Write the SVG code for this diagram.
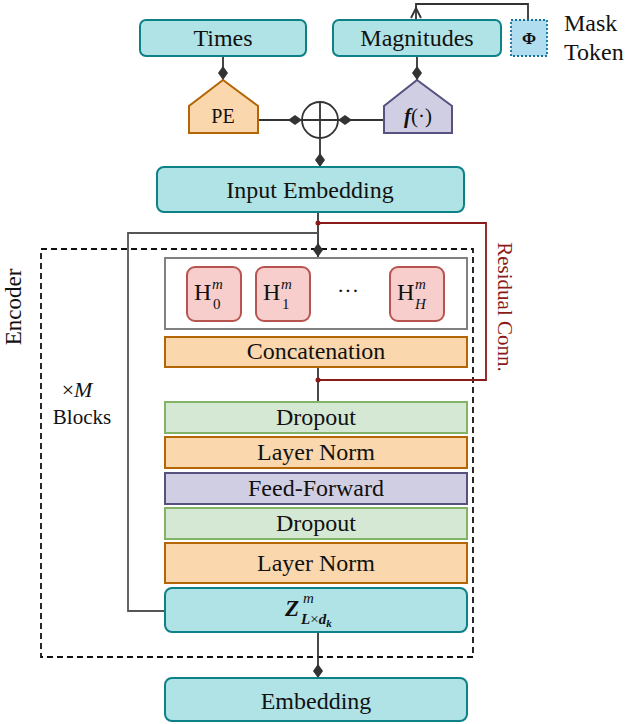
<svg xmlns="http://www.w3.org/2000/svg" width="628" height="724" viewBox="0 0 628 724" font-family="'Liberation Serif', 'DejaVu Serif', serif">
<defs>
<style>
text{font-family:'Liberation Serif','DejaVu Serif',serif;fill:#111;}
.lbl{font-size:24px;text-anchor:middle;}
.teal{fill:#b0e3e6;stroke:#0e8088;stroke-width:2;}
.org{fill:#fad7ac;stroke:#b46504;stroke-width:2;}
.pur{fill:#d0cee2;stroke:#56517e;stroke-width:2;}
.grn{fill:#d5e8d4;stroke:#82b366;stroke-width:2;}
.red{fill:#f8cecc;stroke:#b85450;stroke-width:2;}
.ln{fill:none;stroke:#333;stroke-width:1.8;}
.res{fill:none;stroke:#8b1a1a;stroke-width:1.8;}
.it{font-style:italic;}
.sc{font-size:15px;}
</style>
<marker id="dia" viewBox="0 0 14 10" refX="14" refY="5" markerWidth="14" markerHeight="10" markerUnits="userSpaceOnUse" orient="auto">
<path d="M0,5 L7,0 L14,5 L7,10 Z" fill="#333"/>
</marker>
</defs>

<g id="encoder-box">
<rect x="41" y="249" width="432" height="408" fill="none" stroke="#111" stroke-width="1.8" stroke-dasharray="6,4"/>
<text transform="translate(21,307) rotate(-90)" style="font-size:23px;text-anchor:middle">Encoder</text>
<text x="77" y="397" style="font-size:22px;text-anchor:middle">×<tspan class="it">M</tspan></text>
<text x="82" y="424" style="font-size:21px;text-anchor:middle">Blocks</text>
</g>

<g id="connectors">
<path class="ln" d="M223,56 V80" marker-end="url(#dia)"/>
<path class="ln" d="M417,56 V80" marker-end="url(#dia)"/>
<path class="ln" d="M258,120 H302" marker-end="url(#dia)"/>
<path class="ln" d="M384,120 H338" marker-end="url(#dia)"/>
<path class="ln" d="M320,138 V167" marker-end="url(#dia)"/>
<path class="ln" d="M528,20 V4 H416 V20"/>
<path class="ln" d="M411,18 L416,8 L421,18"/>
<path class="ln" d="M318,212 V257" marker-end="url(#dia)"/>
<path class="ln" d="M318,233 H128 V611 H165" style="stroke:#555"/>
<path class="ln" d="M318,367 V402"/>
<path class="res" d="M318,223 H486 V380 H318"/>
<circle cx="318" cy="223" r="2.5" fill="#8b1a1a"/>
<circle cx="318" cy="380" r="2.5" fill="#8b1a1a"/>
<path class="ln" d="M318,632 V678" marker-end="url(#dia)"/>
</g>

<g id="times">
<rect class="teal" x="140" y="20" width="166" height="36" rx="6"/>
<text class="lbl" x="223" y="46">Times</text>
</g>
<g id="magnitudes">
<rect class="teal" x="333" y="20" width="168" height="36" rx="6"/>
<text class="lbl" x="417" y="46">Magnitudes</text>
</g>
<g id="mask-token">
<rect x="511" y="20" width="36" height="36" fill="#b1ddf0" stroke="#10739e" stroke-width="1.8" stroke-dasharray="2,2"/>
<text x="529" y="44" style="font-size:17px;font-weight:bold;text-anchor:middle">Φ</text>
<text x="564" y="31" style="font-size:24px">Mask</text>
<text x="564" y="60" style="font-size:24px">Token</text>
</g>
<g id="pe">
<path class="org" d="M223,80 L258,106 V133 H189 V106 Z"/>
<text x="223" y="123" style="font-size:20px;text-anchor:middle">PE</text>
</g>
<g id="f">
<path class="pur" d="M417,80 L452,106 V133 H384 V106 Z"/>
<text x="418" y="123" style="font-size:21px;text-anchor:middle"><tspan class="it" font-weight="bold">f</tspan>(·)</text>
</g>
<g id="sum">
<circle cx="320" cy="120" r="18" fill="#fff" stroke="#333" stroke-width="1.8"/>
<path class="ln" d="M302,120 H338 M320,102 V138"/>
</g>
<g id="input-embedding">
<rect class="teal" x="157" y="167" width="307" height="45" rx="7"/>
<text class="lbl" x="310" y="198">Input Embedding</text>
</g>

<g id="heads">
<rect x="165" y="258" width="302" height="71" fill="#fff" stroke="#808080" stroke-width="2"/>
<g id="h0">
<rect class="red" x="187" y="267" width="54" height="54" rx="8"/>
<text x="194" y="300" style="font-size:24px">H</text>
<text x="212" y="289" class="it sc">m</text>
<text x="213" y="309" class="sc">0</text>
</g>
<g id="h1">
<rect class="red" x="256" y="267" width="54" height="54" rx="8"/>
<text x="263" y="300" style="font-size:24px">H</text>
<text x="281" y="289" class="it sc">m</text>
<text x="282" y="309" class="sc">1</text>
</g>
<text x="348" y="298" style="font-size:22px;text-anchor:middle">···</text>
<g id="hH">
<rect class="red" x="390" y="267" width="54" height="54" rx="8"/>
<text x="397" y="300" style="font-size:24px">H</text>
<text x="415" y="289" class="it sc">m</text>
<text x="415" y="309" class="it sc">H</text>
</g>
</g>

<g id="concatenation">
<rect class="org" x="165" y="337" width="302" height="30"/>
<text class="lbl" x="316" y="359">Concatenation</text>
</g>
<text transform="translate(498,307) rotate(90)" style="font-size:21px;text-anchor:middle;fill:#8b1a1a">Residual Conn.</text>

<g id="dropout1">
<rect class="grn" x="165" y="402" width="302" height="31"/>
<text class="lbl" x="316" y="425">Dropout</text>
</g>
<g id="layernorm1">
<rect class="org" x="165" y="437" width="302" height="31"/>
<text class="lbl" x="316" y="460">Layer Norm</text>
</g>
<g id="feedforward">
<rect class="pur" x="165" y="473" width="302" height="31"/>
<text class="lbl" x="316" y="496">Feed-Forward</text>
</g>
<g id="dropout2">
<rect class="grn" x="165" y="508" width="302" height="31"/>
<text class="lbl" x="316" y="531">Dropout</text>
</g>
<g id="layernorm2">
<rect class="org" x="165" y="543" width="302" height="40"/>
<text class="lbl" x="316" y="571">Layer Norm</text>
</g>
<g id="z">
<rect class="teal" x="165" y="588" width="302" height="44" rx="7"/>
<text x="285" y="616" class="it" style="font-size:23px;font-weight:bold">Z</text>
<text x="303" y="603" class="it" style="font-size:15px">m</text>
<text x="301" y="624" class="it" style="font-size:15px;font-weight:bold">L<tspan font-weight="normal" font-style="normal">×</tspan>d<tspan dy="3" style="font-size:11px">k</tspan></text>
</g>
<g id="embedding">
<rect class="teal" x="165" y="678" width="302" height="43" rx="7"/>
<text class="lbl" x="316" y="709">Embedding</text>
</g>
</svg>
